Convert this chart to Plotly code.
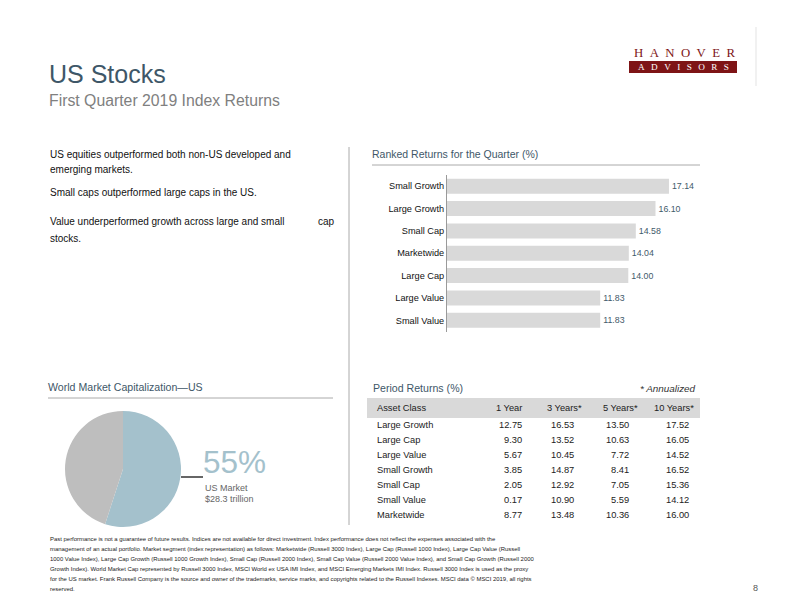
import plotly.graph_objects as go

# The page body has an 8px margin; the figure fills the remaining window.
OFF = 8
W, H = 792 - OFF, 612 - OFF
FONT = "Liberation Sans"

# ---------------- data ----------------
ranked_categories = ["Small Growth", "Large Growth", "Small Cap", "Marketwide",
                     "Large Cap", "Large Value", "Small Value"]
ranked_returns = [17.14, 16.10, 14.58, 14.04, 14.00, 11.83, 11.83]

asset_classes = ["Large Growth", "Large Cap", "Large Value", "Small Growth",
                 "Small Cap", "Small Value", "Marketwide"]
period_headers = ["Asset Class", "1 Year", "3 Years*", "5 Years*", "10 Years*"]
one_year = [12.75, 9.30, 5.67, 3.85, 2.05, 0.17, 8.77]
three_year = [16.53, 13.52, 10.45, 14.87, 12.92, 10.90, 13.48]
five_year = [13.50, 10.63, 7.72, 8.41, 7.05, 5.59, 10.36]
ten_year = [17.52, 16.05, 14.52, 16.52, 15.36, 14.12, 16.00]

pie_labels = ["US Market", "Rest of World"]
pie_values = [55, 45]
us_market_cap = "$28.3 trillion"

bullets = [
    ["US equities outperformed both non-US developed and", "emerging markets."],
    ["Small caps outperformed large caps in the US."],
    ["Value underperformed growth across large and small", "stocks."],
]

footnote_lines = [
    "Past performance is not a guarantee of future results. Indices are not available for direct investment. Index performance does not reflect the expenses associated with the",
    "management of an actual portfolio. Market segment (index representation) as follows: Marketwide (Russell 3000 Index), Large Cap (Russell 1000 Index), Large Cap Value (Russell",
    "1000 Value Index), Large Cap Growth (Russell 1000 Growth Index), Small Cap (Russell 2000 Index), Small Cap Value (Russell 2000 Value Index), and Small Cap Growth (Russell 2000",
    "Growth Index). World Market Cap represented by Russell 3000 Index, MSCI World ex USA IMI Index, and MSCI Emerging Markets IMI Index. Russell 3000 Index is used as the proxy",
    "for the US market. Frank Russell Company is the source and owner of the trademarks, service marks, and copyrights related to the Russell Indexes. MSCI data \u00a9 MSCI 2019, all rights",
    "reserved.",
]

# ---------------- helpers ----------------
def px(x):
    return (x - OFF) / W

def py(y):
    return 1 - (y - OFF) / H

annotations = []
shapes = []

def text(x, y, s, size=9, color="#111111", xanchor="left", family=FONT, italic=False):
    annotations.append(dict(
        x=px(x), y=py(y), xref="paper", yref="paper", text=s, showarrow=False,
        xanchor=xanchor, yanchor="middle", borderpad=0, borderwidth=0,
        font=dict(size=size, color=color, family=family,
                  style="italic" if italic else "normal")))

def line(x0, y0, x1, y1, color="#AAAAAA", width=1):
    shapes.append(dict(type="line", xref="paper", yref="paper",
                       x0=px(x0), y0=py(y0), x1=px(x1), y1=py(y1),
                       line=dict(color=color, width=width)))

def rect(x0, y0, x1, y1, fill):
    shapes.append(dict(type="rect", xref="paper", yref="paper",
                       x0=px(x0), y0=py(y0), x1=px(x1), y1=py(y1),
                       fillcolor=fill, line=dict(width=0), layer="below"))

fig = go.Figure()

# ---------------- ranked bar chart ----------------
fig.add_trace(go.Bar(
    x=ranked_returns, y=ranked_categories, orientation="h",
    marker=dict(color="#D9D9D9", line=dict(width=0)),
    texttemplate="%{x:.2f}", textposition="outside", cliponaxis=False,
    textfont=dict(size=8.8, color="#3F5A6A", family=FONT),
    hoverinfo="skip", showlegend=False,
))

# ---------------- pie ----------------
fig.add_trace(go.Pie(
    labels=pie_labels, values=pie_values, sort=False, direction="clockwise",
    rotation=0, marker=dict(colors=["#A4C1CC", "#BEBEBE"], line=dict(width=0)),
    textinfo="none", hoverinfo="skip", showlegend=False,
    domain=dict(x=[px(65), px(181)], y=[py(527), py(411)]),
))

# ---------------- titles / header ----------------
text(49, 74, "US Stocks", size=25, color="#3E5768")
text(49, 100, "First Quarter 2019 Index Returns", size=15.8, color="#808080")

# logo
rect(629, 61, 737, 73, "#7E1416")
text(684, 53, "\u2002".join("HANOVER"), size=12.8, color="#7E1416", xanchor="center",
     family="Liberation Serif")
text(683, 67.5, "\u2002\u2009".join("ADVISORS"), size=9.2, color="#FFFFFF",
     xanchor="center", family="Liberation Serif")
line(756, 27, 756, 86, color="#E3E3E3")

# bullets
yy = [154, 170, 192, 222, 238]
k = 0
for b in bullets:
    for ln in b:
        text(50, yy[k], ln, size=10, color="#111111")
        k += 1
text(318, 222, "cap", size=10, color="#111111")

# divider
line(349, 147, 349, 525, color="#AAAAAA")

# section headers
text(372, 154, "Ranked Returns for the Quarter (%)", size=10.5, color="#3E5768")
line(372, 165, 700, 165, color="#AAAAAA")
text(48, 387, "World Market Capitalization\u2014US", size=10.6, color="#3E5768")
line(48, 398, 333, 398, color="#AAAAAA")
text(373, 388, "Period Returns (%)", size=10.6, color="#3E5768")
text(696, 388, "* Annualized", size=9.9, color="#333333", xanchor="right", italic=True)

# pie labels
line(181, 477, 203, 477, color="#000000", width=1.2)
text(203, 462, f"{pie_values[0]}%", size=31.5, color="#A4C1CC")
text(205, 488, "US Market", size=9, color="#666666")
text(205, 499, us_market_cap, size=9, color="#666666")

# ---------------- period returns table ----------------
rect(367, 398, 700, 418, "#D9D9D9")
header_x = [377, 522, 582, 638, 694]
for i, h in enumerate(period_headers):
    text(header_x[i], 408, h, size=9.3, color="#222222",
         xanchor="left" if i == 0 else "right")
value_x = [522, 574, 629, 689]
cols = [one_year, three_year, five_year, ten_year]
for r, name in enumerate(asset_classes):
    yrow = 425 + 15 * r
    text(377, yrow, name, size=9.3, color="#222222")
    for c, col in enumerate(cols):
        text(value_x[c], yrow, f"{col[r]:.2f}", size=9.3, color="#222222", xanchor="right")

# ---------------- footnote ----------------
for i, ln in enumerate(footnote_lines):
    text(50, 539 + i * 10, ln, size=5.95, color="#222222")
text(758, 588, "8", size=9, color="#555555", xanchor="right")

fig.update_layout(
    width=W, height=H, margin=dict(l=0, r=0, t=0, b=0),
    paper_bgcolor="white", plot_bgcolor="white",
    bargap=0.33,
    xaxis=dict(domain=[px(447), px(706)], range=[0, 20], visible=False, fixedrange=True),
    yaxis=dict(domain=[py(331.5), py(175)], type="category", autorange="reversed",
               showline=True, linecolor="#9A9A9A", linewidth=1, ticks="",
               showgrid=False, zeroline=False,
               tickfont=dict(size=9.2, color="#111111", family=FONT)),
    annotations=annotations, shapes=shapes,
    font=dict(family=FONT),
)

fig.write_html("out.html")
